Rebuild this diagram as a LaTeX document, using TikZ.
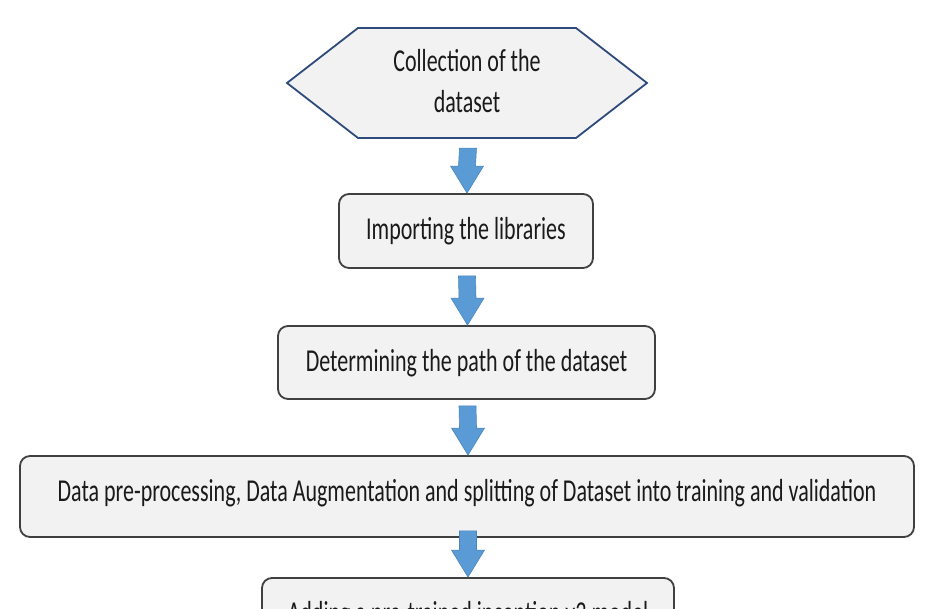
\documentclass[tikz,border=0pt]{standalone}
\usepackage{fontspec}
\setmainfont{Carlito}
\usetikzlibrary{calc}
\definecolor{boxfill}{HTML}{F2F2F2}
\definecolor{boxline}{HTML}{404040}
\definecolor{hexline}{HTML}{2F4A7C}
\definecolor{arrfill}{HTML}{5B9BD5}
\definecolor{arrline}{HTML}{4A86C0}
\definecolor{txt}{HTML}{1A1A1A}
\newcommand\tallt[1]{\scalebox{1}[1.45]{#1}}
\newcommand\liftt[2]{\raisebox{#1}[\dimexpr\height-#1\relax][\dimexpr\depth+#1\relax]{#2}}
\tikzset{
  stepbox/.style={draw=boxline, line width=1.8pt, fill=boxfill, rounded corners=10pt,
    text=txt, font=\fontsize{22}{26}\selectfont, inner sep=0pt},
  hexlabel/.style={text=txt, font=\fontsize{22}{41}\selectfont, align=center, inner sep=0pt},
  blockarr/.style={fill=arrfill, draw=arrline, line width=0.6pt},
}
\newcommand\blockarrow[2]{%
  \draw[blockarr] ($(#1)+(-8.5,0)$) -- ($(#2)+(-8.5,27)$) -- ($(#2)+(-16.5,27)$) -- (#2)
    -- ($(#2)+(16.5,27)$) -- ($(#2)+(8.5,27)$) -- ($(#1)+(8.5,0)$) -- cycle;}
\begin{document}
\begin{tikzpicture}[x=1pt,y=1pt]
\useasboundingbox (0,0) rectangle (949,609);
\clip (0,0) rectangle (949,609);
\fill[white] (0,0) rectangle (949,609);
% hexagon
\coordinate (hl) at (287,526);
\coordinate (htl) at (358,581);
\coordinate (htr) at (576,581);
\coordinate (hr) at (647,526);
\coordinate (hbr) at (576,471);
\coordinate (hbl) at (358,471);
\draw[draw=hexline, line width=1.8pt, fill=boxfill, line join=miter]
  (hl) -- (htl) -- (htr) -- (hr) -- (hbr) -- (hbl) -- cycle;
\node[hexlabel, minimum width=360pt, minimum height=110pt] (hex) at (467,526) {\liftt{1.2pt}{\tallt{Collection of the}}\\\liftt{1.2pt}{\tallt{dataset}}};
% boxes
\node[stepbox, minimum width=254pt, minimum height=74pt, text height=20pt, text depth=3.4pt] (b2) at (466,378) {\tallt{Importing the libraries}};
\node[stepbox, minimum width=377pt, minimum height=73pt, text height=21pt, text depth=2.4pt] (b3) at (466.5,246.5) {\tallt{Determining the path of the dataset}};
\node[stepbox, minimum width=894pt, minimum height=81pt, text height=16pt, text depth=5.4pt] (b4) at (467,112.5) {\tallt{Data pre-processing, Data Augmentation and splitting of Dataset into training and validation}};
\node[stepbox, minimum width=412pt, minimum height=74pt, text height=20pt, text depth=3.4pt] (b5) at (468,-6) {\tallt{Adding a pre-trained inception v3 model}};
% arrows
\coordinate (a1s) at ($(hex.south)+(1,-10)$);
\coordinate (a2s) at ($(b2.south)+(1,-7)$);
\coordinate (a3s) at ($(b3.south)+(1,-6)$);
\coordinate (a4s) at ($(b4.south)+(1,7)$);
\coordinate (a1e) at ($(b2.north)+(1,0)$);
\coordinate (a2e) at ($(b3.north)+(1,0)$);
\coordinate (a3e) at ($(b4.north)+(1,0)$);
\coordinate (a4e) at ($(b5.north)+(0,0)$);
\blockarrow{a1s}{a1e}
\blockarrow{a2s}{a2e}
\blockarrow{a3s}{a3e}
\blockarrow{a4s}{a4e}
\end{tikzpicture}
\end{document}
